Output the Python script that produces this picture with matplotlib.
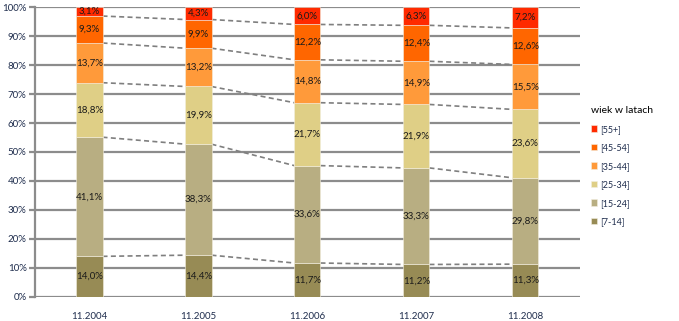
import matplotlib.pyplot as plt

plt.rcParams['font.family'] = ['Lato', 'DejaVu Sans']

periods = ["11.2004", "11.2005", "11.2006", "11.2007", "11.2008"]
groups = ["[7-14]", "[15-24]", "[25-34]", "[35-44]", "[45-54]", "[55+]"]
colors = ["#978b55", "#b8ae82", "#dfcf86", "#ff9a3a", "#ff6600", "#ff2a00"]

v_7_14 = [14.0, 14.4, 11.7, 11.2, 11.3]
v_15_24 = [41.1, 38.3, 33.6, 33.3, 29.8]
v_25_34 = [18.8, 19.9, 21.7, 21.9, 23.6]
v_35_44 = [13.7, 13.2, 14.8, 14.9, 15.5]
v_45_54 = [9.3, 9.9, 12.2, 12.4, 12.6]
v_55 = [3.1, 4.3, 6.0, 6.3, 7.2]
series = [v_7_14, v_15_24, v_25_34, v_35_44, v_45_54, v_55]

fig = plt.figure(figsize=(6.79, 3.21), dpi=100)
ax = fig.add_axes([0.0515, 0.075, 0.8025, 0.903])

x = list(range(len(periods)))
width = 0.24
grid_c = "#8c8c8c"

for y in range(0, 101, 10):
    ax.axhline(y, color=grid_c, lw=1.6, zorder=0)

bottoms = [0.0] * len(periods)
handles = []
for vals, col, name in zip(series, colors, groups):
    b = ax.bar(x, vals, width, bottom=bottoms, color=col, edgecolor="#f3efe0",
               linewidth=0.4, zorder=3, label=name)
    handles.append(b)
    for i, v in enumerate(vals):
        ax.text(x[i], bottoms[i] + v / 2, f"{v:.1f}%".replace(".", ","),
                ha="center", va="center", fontsize=7, color="#1a1a1a", zorder=4)
    bottoms = [bt + v for bt, v in zip(bottoms, vals)]
    if name != groups[-1]:
        for i in range(len(periods) - 1):
            ax.plot([x[i] + width / 2, x[i + 1] - width / 2],
                    [bottoms[i], bottoms[i + 1]], color="#7f7f7f", lw=1.2,
                    dashes=(3, 2), zorder=2)

ax.set_xlim(-0.5, len(periods) - 0.5)
ax.set_ylim(0, 100)
ax.set_yticks(range(0, 101, 10))
ax.set_yticklabels([f"{t}%" for t in range(0, 101, 10)])
ax.set_xticks(x)
ax.set_xticklabels(periods)
ax.tick_params(axis="y", length=4, width=1.6, color=grid_c, labelsize=7,
               labelcolor="#1f2d4d", pad=2)
ax.tick_params(axis="x", length=0, labelsize=7, labelcolor="#1f2d4d", pad=11)
for s in ["top", "right", "bottom"]:
    ax.spines[s].set_visible(False)
ax.spines["left"].set_color(grid_c)
ax.spines["left"].set_linewidth(1.6)

leg = fig.legend(handles[::-1], groups[::-1], title="wiek w latach",
                 loc="upper left", bbox_to_anchor=(0.865, 0.68), frameon=False,
                 fontsize=6.5, title_fontsize=7.5, handlelength=0.7,
                 handleheight=0.7, handletextpad=0.3, labelspacing=1.05,
                 borderaxespad=0)
leg._legend_box.align = "left"
for t in leg.get_texts():
    t.set_color("#1f2d4d")

fig.savefig("out.png", dpi=100)
